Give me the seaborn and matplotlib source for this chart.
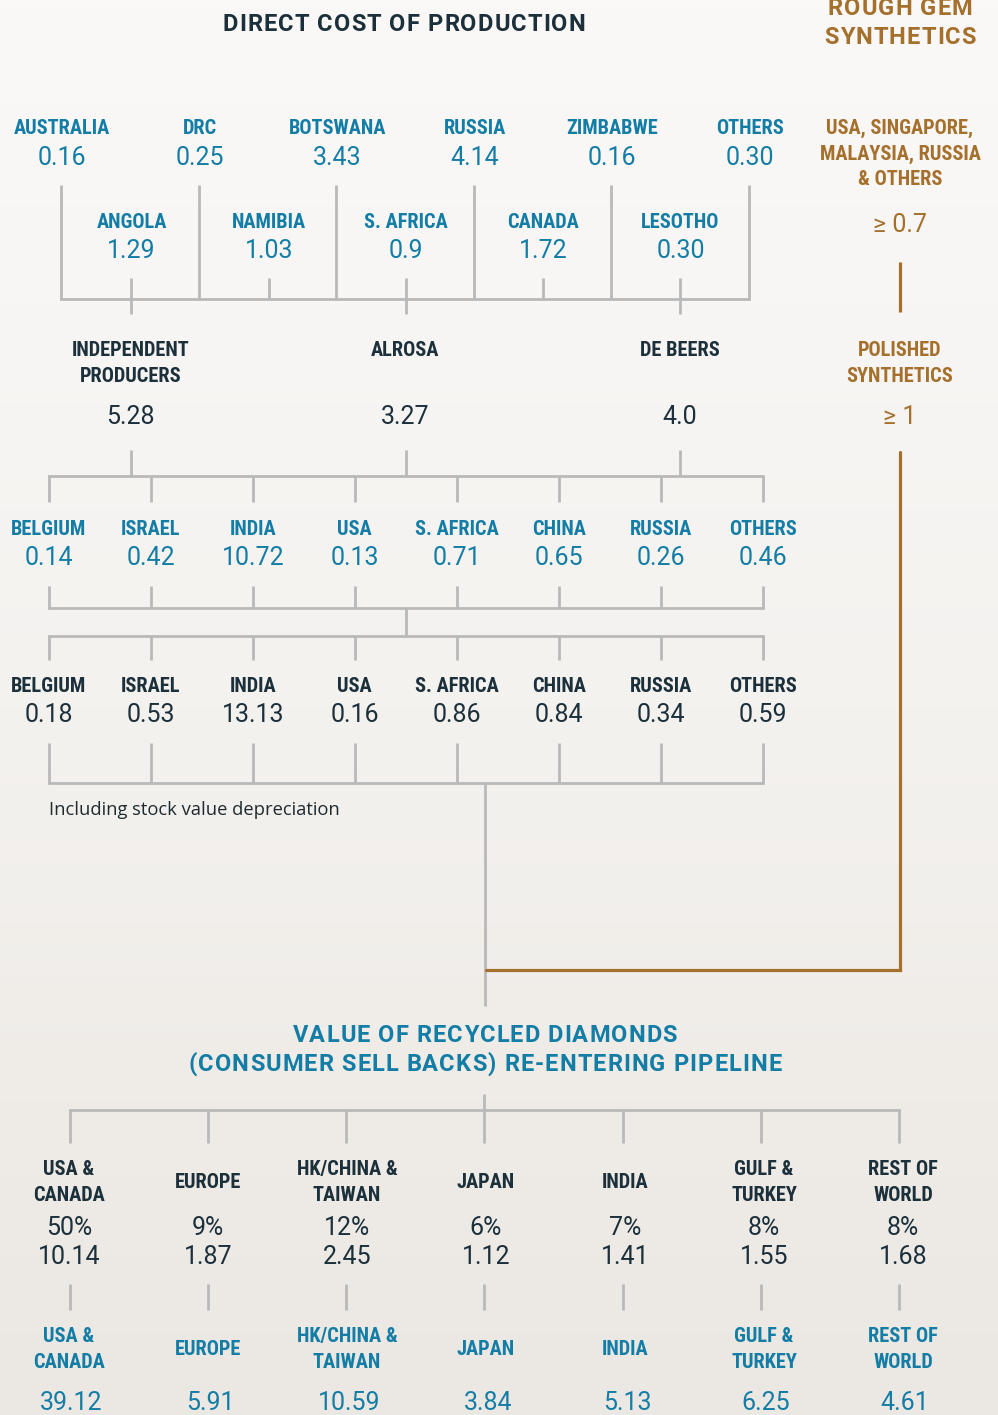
import numpy as np
import matplotlib.pyplot as plt
import seaborn as sns
from matplotlib.colors import LinearSegmentedColormap
from matplotlib.font_manager import FontProperties, findfont, get_font

# ---- values (billion US$) ----
mine_top = ["AUSTRALIA", "DRC", "BOTSWANA", "RUSSIA", "ZIMBABWE", "OTHERS"]
mine_top_val = ["0.16", "0.25", "3.43", "4.14", "0.16", "0.30"]
mine_low = ["ANGOLA", "NAMIBIA", "S. AFRICA", "CANADA", "LESOTHO"]
mine_low_val = ["1.29", "1.03", "0.9", "1.72", "0.30"]

producers = ["INDEPENDENT\nPRODUCERS", "ALROSA", "DE BEERS"]
producers_val = ["5.28", "3.27", "4.0"]

centres = ["BELGIUM", "ISRAEL", "INDIA", "USA", "S. AFRICA", "CHINA", "RUSSIA", "OTHERS"]
rough_trade_val = ["0.14", "0.42", "10.72", "0.13", "0.71", "0.65", "0.26", "0.46"]
polished_trade_val = ["0.18", "0.53", "13.13", "0.16", "0.86", "0.84", "0.34", "0.59"]

synth_sources = "USA, SINGAPORE,\nMALAYSIA, RUSSIA\n& OTHERS"
synth_rough_val = "\u2265 0.7"
synth_polished = "POLISHED\nSYNTHETICS"
synth_polished_val = "\u2265 1"

regions = ["USA &\nCANADA", "EUROPE", "HK/CHINA &\nTAIWAN", "JAPAN", "INDIA",
           "GULF &\nTURKEY", "REST OF\nWORLD"]
recycled_share = ["50%", "9%", "12%", "6%", "7%", "8%", "8%"]
recycled_val = ["10.14", "1.87", "2.45", "1.12", "1.41", "1.55", "1.68"]
retail_val = ["39.12", "5.91", "10.59", "3.84", "5.13", "6.25", "4.61"]

# ---- style ----
sns.set_theme(style="white")
NAVY = "#1c303b"
BLUE = "#147da6"
GOLD = "#a56f2c"
GREY = "#b9b9b9"
COND = ["Roboto Condensed", "DejaVu Sans"]
REG = ["Roboto", "DejaVu Sans"]

W, H = 998, 1415
fig = plt.figure(figsize=(W / 100, H / 100), dpi=100)
ax = fig.add_axes([0, 0, 1, 1])
ax.set_xlim(0, W)
ax.set_ylim(H, 0)
ax.axis("off")

bg = LinearSegmentedColormap.from_list("bg", ["#faf9f8", "#f4f2ef", "#ebe7e2"])
ax.imshow(np.linspace(0, 1, 256)[:, None], extent=[0, W, H, 0], cmap=bg,
          aspect="auto", zorder=0)


def name(x, y, s, color, lh=25.5, size=14.7, center=False):
    lines = s.split("\n")
    if center:
        y = y - (len(lines) - 1) * lh / 2
    for i, line in enumerate(lines):
        ax.text(x, y + i * lh, line, ha="center", va="baseline", color=color,
                family=COND, weight="bold", fontsize=size)


def num(x, y, s, color, size=18):
    ax.text(x, y, s, ha="center", va="baseline", color=color, family=REG,
            fontsize=size)


def spaced(cx, y, s, color, size=17, track=1.1):
    # heading with a little letter spacing, laid out glyph by glyph
    prop = FontProperties(family="Roboto", weight="bold", size=size)
    font = get_font(findfont(prop))
    font.set_size(size, 100)
    adv = [font.load_char(ord(c)).linearHoriAdvance / 65536 for c in s]
    total = sum(adv) + track * (len(s) - 1)
    x = cx - total / 2
    for c, a in zip(s, adv):
        ax.text(x, y, c, ha="left", va="baseline", color=color,
                fontproperties=prop)
        x += a + track


def vl(x, y0, y1, c=GREY, lw=2):
    ax.vlines(x, y0, y1, color=c, lw=lw, zorder=2)


def hl(y, x0, x1, c=GREY, lw=2):
    ax.hlines(y, x0, x1, color=c, lw=lw, zorder=2, capstyle="projecting")


# ---- headings ----
spaced(404, 30.7, "DIRECT COST OF PRODUCTION", NAVY)
spaced(900, 15, "ROUGH GEM", GOLD)
spaced(900, 44, "SYNTHETICS", GOLD)

# ---- mines ----
top_x = np.linspace(61, 749, len(mine_top))
low_x = np.linspace(131.5, 680.5, len(mine_low))
for x, n, v in zip(top_x, mine_top, mine_top_val):
    name(x + 1, 134, n, BLUE)
    num(x + 1, 165, v, BLUE)
for x, n, v in zip(low_x, mine_low, mine_low_val):
    name(x, 228, n, BLUE)
    num(x, 258, v, BLUE)
vl(top_x, 185, 299)
vl(low_x, 278, 299)
vl(low_x[::2], 299, 314)
hl(299, top_x[0], top_x[-1])

# ---- producers ----
prod_x = low_x[::2]
for x, n, v in zip(prod_x, producers, producers_val):
    name(x - 1, 356, n, NAVY)
    num(x - 1, 424, v, NAVY)
vl(prod_x, 450, 476)

# ---- cutting centres: rough then polished ----
row_x = np.linspace(49.3, 763.3, len(centres))
hl(476, row_x[0], row_x[-1])
vl(row_x, 476, 502)
for x, n, v in zip(row_x, centres, rough_trade_val):
    name(x - 0.5, 535, n, BLUE)
    num(x - 0.5, 565, v, BLUE)
vl(row_x, 586, 608)
hl(608, row_x[0], row_x[-1])
vl(406, 608, 636)
hl(636, row_x[0], row_x[-1])
vl(row_x, 636, 660)
for x, n, v in zip(row_x, centres, polished_trade_val):
    name(x - 0.5, 692.5, n, NAVY)
    num(x - 0.5, 722.5, v, NAVY)
vl(row_x, 743, 783)
hl(783, row_x[0], row_x[-1])
ax.text(49, 815, "Including stock value depreciation", ha="left", va="baseline",
        color="#1e2a30", family=["Open Sans", "DejaVu Sans"], fontsize=13.2)
vl(485, 783, 1006)

# ---- synthetics branch ----
name(900, 134, synth_sources, GOLD)
num(900, 231.7, synth_rough_val, GOLD)
vl(900, 262, 312, c=GOLD, lw=2.3)
name(900, 356, synth_polished, GOLD)
num(900, 424, synth_polished_val, GOLD)
ax.plot([900, 900, 486], [452, 970, 970], color=GOLD, lw=2.3, zorder=3,
        solid_joinstyle="miter")

# ---- recycled / consumer ----
spaced(485, 1041.7, "VALUE OF RECYCLED DIAMONDS", BLUE)
spaced(485, 1070.7, "(CONSUMER SELL BACKS) RE-ENTERING PIPELINE", BLUE)

tick_x = np.linspace(70, 899, len(regions))
text_x = np.linspace(69, 903, len(regions))
vl(484, 1094, 1110)
hl(1110, tick_x[0], tick_x[-1])
vl(tick_x, 1110, 1143)
vl(tick_x, 1284, 1310)
for x, r, s, v, rv in zip(text_x, regions, recycled_share, recycled_val, retail_val):
    name(x, 1188, r, NAVY, center=True)
    num(x, 1235, s, NAVY)
    num(x, 1264, v, NAVY)
    name(x, 1355.2, r, BLUE, center=True)
    num(x + 2, 1410, rv, BLUE)

fig.savefig("out.png", dpi=100)
